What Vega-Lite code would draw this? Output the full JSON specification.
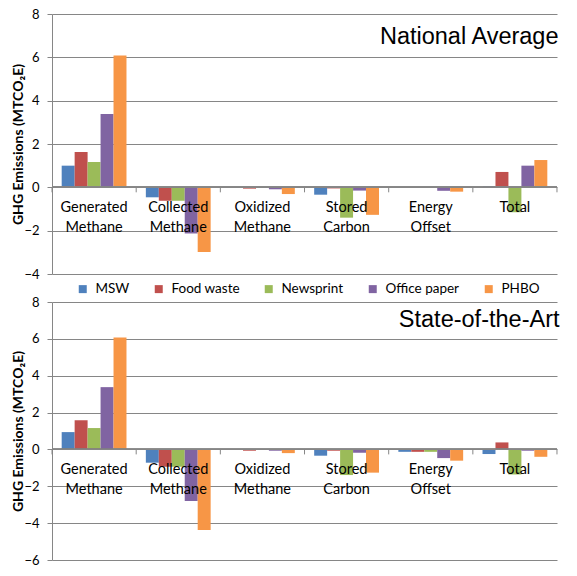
{
  "$schema": "https://vega.github.io/schema/vega-lite/v6.json",
  "padding": {"left": 11, "top": 8, "right": 5, "bottom": 5},
  "background": "white",
  "config": {
    "view": {"stroke": null},
    "font": "Lato",
    "axisY": {
      "grid": true,
      "gridColor": "#868686",
      "domainColor": "#868686",
      "tickColor": "#868686",
      "tickSize": 5,
      "labelPadding": 8,
      "labelFontSize": 13,
      "labelColor": "black",
      "labelOverlap": false,
      "titleFontSize": 14,
      "titleFontWeight": "bold",
      "titleColor": "black",
      "titlePadding": -2
    },
    "title": {"font": "Liberation Sans", "fontSize": 23.5, "fontWeight": "normal", "color": "black", "anchor": "end", "baseline": "alphabetic"}
  },
  "data": {
    "values": [
      {"panel": "NA", "cat": "Generated Methane", "series": "MSW", "value": 1.0},
      {"panel": "NA", "cat": "Generated Methane", "series": "Food waste", "value": 1.63},
      {"panel": "NA", "cat": "Generated Methane", "series": "Newsprint", "value": 1.17},
      {"panel": "NA", "cat": "Generated Methane", "series": "Office paper", "value": 3.39},
      {"panel": "NA", "cat": "Generated Methane", "series": "PHBO", "value": 6.08},
      {"panel": "NA", "cat": "Collected Methane", "series": "MSW", "value": -0.46},
      {"panel": "NA", "cat": "Collected Methane", "series": "Food waste", "value": -0.62},
      {"panel": "NA", "cat": "Collected Methane", "series": "Newsprint", "value": -0.62},
      {"panel": "NA", "cat": "Collected Methane", "series": "Office paper", "value": -2.13},
      {"panel": "NA", "cat": "Collected Methane", "series": "PHBO", "value": -2.98},
      {"panel": "NA", "cat": "Oxidized Methane", "series": "MSW", "value": 0},
      {"panel": "NA", "cat": "Oxidized Methane", "series": "Food waste", "value": -0.06},
      {"panel": "NA", "cat": "Oxidized Methane", "series": "Newsprint", "value": 0},
      {"panel": "NA", "cat": "Oxidized Methane", "series": "Office paper", "value": -0.09},
      {"panel": "NA", "cat": "Oxidized Methane", "series": "PHBO", "value": -0.31},
      {"panel": "NA", "cat": "Stored Carbon", "series": "MSW", "value": -0.34},
      {"panel": "NA", "cat": "Stored Carbon", "series": "Food waste", "value": -0.05},
      {"panel": "NA", "cat": "Stored Carbon", "series": "Newsprint", "value": -1.4},
      {"panel": "NA", "cat": "Stored Carbon", "series": "Office paper", "value": -0.15},
      {"panel": "NA", "cat": "Stored Carbon", "series": "PHBO", "value": -1.27},
      {"panel": "NA", "cat": "Energy Offset", "series": "MSW", "value": 0},
      {"panel": "NA", "cat": "Energy Offset", "series": "Food waste", "value": 0},
      {"panel": "NA", "cat": "Energy Offset", "series": "Newsprint", "value": 0},
      {"panel": "NA", "cat": "Energy Offset", "series": "Office paper", "value": -0.16},
      {"panel": "NA", "cat": "Energy Offset", "series": "PHBO", "value": -0.2},
      {"panel": "NA", "cat": "Total", "series": "MSW", "value": 0.06},
      {"panel": "NA", "cat": "Total", "series": "Food waste", "value": 0.71},
      {"panel": "NA", "cat": "Total", "series": "Newsprint", "value": -1.15},
      {"panel": "NA", "cat": "Total", "series": "Office paper", "value": 1.0},
      {"panel": "NA", "cat": "Total", "series": "PHBO", "value": 1.26},
      {"panel": "SA", "cat": "Generated Methane", "series": "MSW", "value": 0.94},
      {"panel": "SA", "cat": "Generated Methane", "series": "Food waste", "value": 1.59},
      {"panel": "SA", "cat": "Generated Methane", "series": "Newsprint", "value": 1.16},
      {"panel": "SA", "cat": "Generated Methane", "series": "Office paper", "value": 3.38},
      {"panel": "SA", "cat": "Generated Methane", "series": "PHBO", "value": 6.08},
      {"panel": "SA", "cat": "Collected Methane", "series": "MSW", "value": -0.72},
      {"panel": "SA", "cat": "Collected Methane", "series": "Food waste", "value": -0.94},
      {"panel": "SA", "cat": "Collected Methane", "series": "Newsprint", "value": -0.94},
      {"panel": "SA", "cat": "Collected Methane", "series": "Office paper", "value": -2.8},
      {"panel": "SA", "cat": "Collected Methane", "series": "PHBO", "value": -4.37},
      {"panel": "SA", "cat": "Oxidized Methane", "series": "MSW", "value": 0},
      {"panel": "SA", "cat": "Oxidized Methane", "series": "Food waste", "value": -0.07},
      {"panel": "SA", "cat": "Oxidized Methane", "series": "Newsprint", "value": 0},
      {"panel": "SA", "cat": "Oxidized Methane", "series": "Office paper", "value": -0.07},
      {"panel": "SA", "cat": "Oxidized Methane", "series": "PHBO", "value": -0.2},
      {"panel": "SA", "cat": "Stored Carbon", "series": "MSW", "value": -0.34},
      {"panel": "SA", "cat": "Stored Carbon", "series": "Food waste", "value": -0.07},
      {"panel": "SA", "cat": "Stored Carbon", "series": "Newsprint", "value": -1.39},
      {"panel": "SA", "cat": "Stored Carbon", "series": "Office paper", "value": -0.18},
      {"panel": "SA", "cat": "Stored Carbon", "series": "PHBO", "value": -1.26},
      {"panel": "SA", "cat": "Energy Offset", "series": "MSW", "value": -0.13},
      {"panel": "SA", "cat": "Energy Offset", "series": "Food waste", "value": -0.13},
      {"panel": "SA", "cat": "Energy Offset", "series": "Newsprint", "value": -0.13},
      {"panel": "SA", "cat": "Energy Offset", "series": "Office paper", "value": -0.47},
      {"panel": "SA", "cat": "Energy Offset", "series": "PHBO", "value": -0.61},
      {"panel": "SA", "cat": "Total", "series": "MSW", "value": -0.25},
      {"panel": "SA", "cat": "Total", "series": "Food waste", "value": 0.38},
      {"panel": "SA", "cat": "Total", "series": "Newsprint", "value": -1.36},
      {"panel": "SA", "cat": "Total", "series": "Office paper", "value": -0.07},
      {"panel": "SA", "cat": "Total", "series": "PHBO", "value": -0.4}
    ]
  },
  "spacing": 0,
  "resolve": {
    "scale": {"x": "independent", "y": "independent", "xOffset": "independent", "color": "independent"},
    "legend": {"color": "independent"}
  },
  "vconcat": [
    {
      "width": 505,
      "height": 260,
      "title": {"text": "National Average", "offset": -40, "dx": 1},
      "transform": [{"filter": "datum.panel == 'NA'"}],
      "layer": [
        {
          "mark": "bar",
          "encoding": {
            "x": {"field": "cat", "type": "nominal", "sort": ["Generated Methane", "Collected Methane", "Oxidized Methane", "Stored Carbon", "Energy Offset", "Total"], "scale": {"paddingInner": 0.23, "paddingOuter": 0.115}, "axis": null},
            "xOffset": {"field": "series", "type": "nominal", "sort": ["MSW", "Food waste", "Newsprint", "Office paper", "PHBO"], "scale": {"paddingInner": 0, "paddingOuter": 0}},
            "y": {"field": "value", "type": "quantitative", "scale": {"domain": [-4, 8], "nice": false}, "axis": {"title": "GHG Emissions (MTCO₂E)", "values": [-4, -2, 0, 2, 4, 6, 8]}},
            "color": {
              "field": "series", "type": "nominal",
              "scale": {"domain": ["MSW", "Food waste", "Newsprint", "Office paper", "PHBO"], "range": ["#4F81BD", "#C0504D", "#9BBB59", "#8064A2", "#F79646"]},
              "legend": {"orient": "none", "legendX": 24, "legendY": 268, "direction": "horizontal", "title": null, "symbolType": "square", "symbolSize": 64, "symbolStrokeWidth": 0, "labelFontSize": 13.5, "labelColor": "black", "labelOffset": 6, "columnPadding": 22}
            }
          }
        },
        {
          "mark": {"type": "rule", "color": "#868686"},
          "encoding": {"y": {"datum": 0, "axis": {"title": "GHG Emissions (MTCO₂E)", "values": [-4, -2, 0, 2, 4, 6, 8]}}}
        },
        {
          "mark": {"type": "rule", "color": "#868686"},
          "transform": [{"filter": "datum.series == 'MSW'"}],
          "encoding": {
            "x": {"field": "cat", "type": "nominal", "sort": ["Generated Methane", "Collected Methane", "Oxidized Methane", "Stored Carbon", "Energy Offset", "Total"], "bandPosition": -0.149},
            "y": {"datum": 0, "axis": {"title": "GHG Emissions (MTCO₂E)", "values": [-4, -2, 0, 2, 4, 6, 8]}},
            "y2": {"datum": -0.23}
          }
        },
        {
          "mark": {"type": "rule", "color": "#868686"},
          "transform": [{"filter": "datum.series == 'MSW' && datum.cat == 'Total'"}],
          "encoding": {
            "x": {"field": "cat", "type": "nominal", "sort": ["Generated Methane", "Collected Methane", "Oxidized Methane", "Stored Carbon", "Energy Offset", "Total"], "bandPosition": 1.149},
            "y": {"datum": 0, "axis": {"title": "GHG Emissions (MTCO₂E)", "values": [-4, -2, 0, 2, 4, 6, 8]}},
            "y2": {"datum": -0.23}
          }
        },
        {
          "mark": {"type": "text", "lineBreak": " ", "baseline": "alphabetic", "dy": 25, "lineHeight": 20, "fontSize": 14.5, "color": "black"},
          "transform": [{"filter": "datum.series == 'MSW'"}],
          "encoding": {
            "x": {"field": "cat", "type": "nominal", "sort": ["Generated Methane", "Collected Methane", "Oxidized Methane", "Stored Carbon", "Energy Offset", "Total"]},
            "y": {"datum": 0, "axis": {"title": "GHG Emissions (MTCO₂E)", "values": [-4, -2, 0, 2, 4, 6, 8]}},
            "text": {"field": "cat"}
          }
        }
      ]
    },
    {
      "width": 505,
      "height": 258,
      "title": {"text": "State-of-the-Art", "offset": -35, "dx": 2},
      "transform": [{"filter": "datum.panel == 'SA'"}],
      "layer": [
        {
          "mark": "bar",
          "encoding": {
            "x": {"field": "cat", "type": "nominal", "sort": ["Generated Methane", "Collected Methane", "Oxidized Methane", "Stored Carbon", "Energy Offset", "Total"], "scale": {"paddingInner": 0.23, "paddingOuter": 0.115}, "axis": null},
            "xOffset": {"field": "series", "type": "nominal", "sort": ["MSW", "Food waste", "Newsprint", "Office paper", "PHBO"], "scale": {"paddingInner": 0, "paddingOuter": 0}},
            "y": {"field": "value", "type": "quantitative", "scale": {"domain": [-6, 8], "nice": false}, "axis": {"title": "GHG Emissions (MTCO₂E)", "values": [-6, -4, -2, 0, 2, 4, 6, 8]}},
            "color": {
              "field": "series", "type": "nominal",
              "scale": {"domain": ["MSW", "Food waste", "Newsprint", "Office paper", "PHBO"], "range": ["#4F81BD", "#C0504D", "#9BBB59", "#8064A2", "#F79646"]},
              "legend": null
            }
          }
        },
        {
          "mark": {"type": "rule", "color": "#868686"},
          "encoding": {"y": {"datum": 0, "axis": {"title": "GHG Emissions (MTCO₂E)", "values": [-6, -4, -2, 0, 2, 4, 6, 8]}}}
        },
        {
          "mark": {"type": "rule", "color": "#868686"},
          "transform": [{"filter": "datum.series == 'MSW'"}],
          "encoding": {
            "x": {"field": "cat", "type": "nominal", "sort": ["Generated Methane", "Collected Methane", "Oxidized Methane", "Stored Carbon", "Energy Offset", "Total"], "bandPosition": -0.149},
            "y": {"datum": 0, "axis": {"title": "GHG Emissions (MTCO₂E)", "values": [-6, -4, -2, 0, 2, 4, 6, 8]}},
            "y2": {"datum": -0.27}
          }
        },
        {
          "mark": {"type": "rule", "color": "#868686"},
          "transform": [{"filter": "datum.series == 'MSW' && datum.cat == 'Total'"}],
          "encoding": {
            "x": {"field": "cat", "type": "nominal", "sort": ["Generated Methane", "Collected Methane", "Oxidized Methane", "Stored Carbon", "Energy Offset", "Total"], "bandPosition": 1.149},
            "y": {"datum": 0, "axis": {"title": "GHG Emissions (MTCO₂E)", "values": [-6, -4, -2, 0, 2, 4, 6, 8]}},
            "y2": {"datum": -0.27}
          }
        },
        {
          "mark": {"type": "text", "lineBreak": " ", "baseline": "alphabetic", "dy": 25, "lineHeight": 20, "fontSize": 14.5, "color": "black"},
          "transform": [{"filter": "datum.series == 'MSW'"}],
          "encoding": {
            "x": {"field": "cat", "type": "nominal", "sort": ["Generated Methane", "Collected Methane", "Oxidized Methane", "Stored Carbon", "Energy Offset", "Total"]},
            "y": {"datum": 0, "axis": {"title": "GHG Emissions (MTCO₂E)", "values": [-6, -4, -2, 0, 2, 4, 6, 8]}},
            "text": {"field": "cat"}
          }
        }
      ]
    }
  ]
}
